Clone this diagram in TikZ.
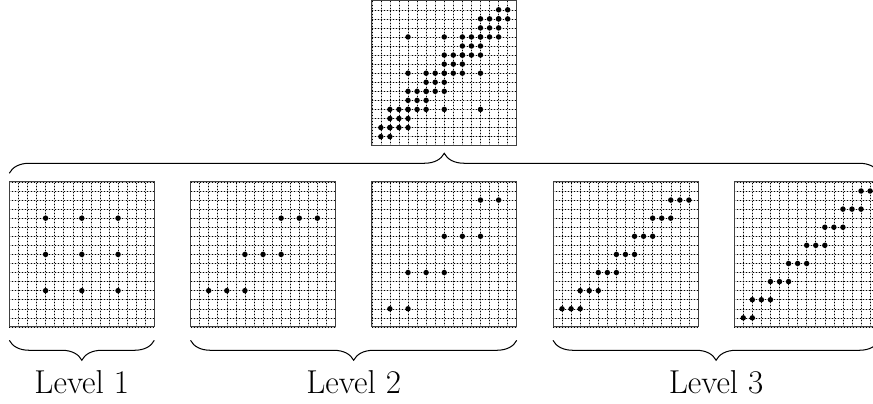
\documentclass[tikz,border=0pt]{standalone}
\usetikzlibrary{calc,decorations.pathreplacing}

\begin{document}
\begin{tikzpicture}[x=0.25cm,y=0.25cm,
  lattice/.style={gray!45,line width=0.4pt},
  latticedots/.style={black,dotted,line width=0.4pt},
  frame/.style={black!75,line width=0.7pt},
  pt/.style={fill=black},
  brc/.style={decorate,decoration={brace,amplitude=0.55cm},line width=0.8pt},
  lbl/.style={anchor=base,font=\fontsize{26}{31}\selectfont}]
\useasboundingbox (-1.03,-8.42) rectangle (95.32,36.08);
% the six grids (16x16 cells)
\coordinate (gA) at (0,0);  \coordinate (gB) at (20,0);
\coordinate (gC) at (40,0); \coordinate (gD) at (60,0);
\coordinate (gE) at (80,0); \coordinate (gT) at (40,20);
\foreach \g in {gA,gB,gC,gD,gE,gT}{
  \draw[lattice,step=0.25cm] (\g) grid ++(16,16);
  \draw[latticedots,step=0.25cm] (\g) grid ++(16,16);
  \draw[frame] (\g) rectangle ++(16,16);
}
% Level 1
\foreach \i in {4,8,12} \foreach \j in {4,8,12}
  \fill[pt] ($(gA)+(\i,\j)$) circle (0.3);
% Level 2
\foreach \i/\j in {2/4,4/4,6/4,6/8,8/8,10/8,10/12,12/12,14/12}
  \fill[pt] ($(gB)+(\i,\j)$) circle (0.3);
\foreach \i/\j in {2/2,4/2,4/6,6/6,8/6,8/10,10/10,12/10,12/14,14/14}
  \fill[pt] ($(gC)+(\i,\j)$) circle (0.3);
% Level 3
\foreach \k in {0,...,6}
  \foreach \d in {1,2,3}
    \fill[pt] ($(gD)+(2*\k+\d,2*\k+2)$) circle (0.3);
\foreach \i/\j in {1/1,2/1,15/15,14/15}
  \fill[pt] ($(gE)+(\i,\j)$) circle (0.3);
\foreach \k in {0,...,5}
  \foreach \d in {2,3,4}
    \fill[pt] ($(gE)+(2*\k+\d,2*\k+3)$) circle (0.3);
% union on top
\foreach \i/\j in {4/4,8/4,12/4,4/8,8/8,12/8,4/12,8/12,12/12,
  2/4,6/4,6/8,10/8,10/12,14/12,
  2/2,4/2,4/6,6/6,8/6,8/10,10/10,12/10,12/14,14/14}
  \fill[pt] ($(gT)+(\i,\j)$) circle (0.3);
\foreach \k in {0,...,6}
  \foreach \d in {1,2,3}
    \fill[pt] ($(gT)+(2*\k+\d,2*\k+2)$) circle (0.3);
\foreach \i/\j in {1/1,2/1,15/15,14/15}
  \fill[pt] ($(gT)+(\i,\j)$) circle (0.3);
\foreach \k in {0,...,5}
  \foreach \d in {2,3,4}
    \fill[pt] ($(gT)+(2*\k+\d,2*\k+3)$) circle (0.3);
% braces
\coordinate (tL) at (0,16.96);  \coordinate (tR) at (96,16.96);
\draw[brc] (tL) -- (tR);
\coordinate (aL) at (0,-1.48);  \coordinate (aR) at (16,-1.48);
\coordinate (bL) at (20,-1.48); \coordinate (bR) at (56,-1.48);
\coordinate (cL) at (60,-1.48); \coordinate (cR) at (96,-1.48);
\draw[brc] (aR) -- (aL);
\draw[brc] (bR) -- (bL);
\draw[brc] (cR) -- (cL);
\node[lbl] (lev1) at (8,-7.36) {Level 1};
\node[lbl] (lev2) at (38,-7.36) {Level 2};
\node[lbl] (lev3) at (78,-7.36) {Level 3};
\end{tikzpicture}
\end{document}
